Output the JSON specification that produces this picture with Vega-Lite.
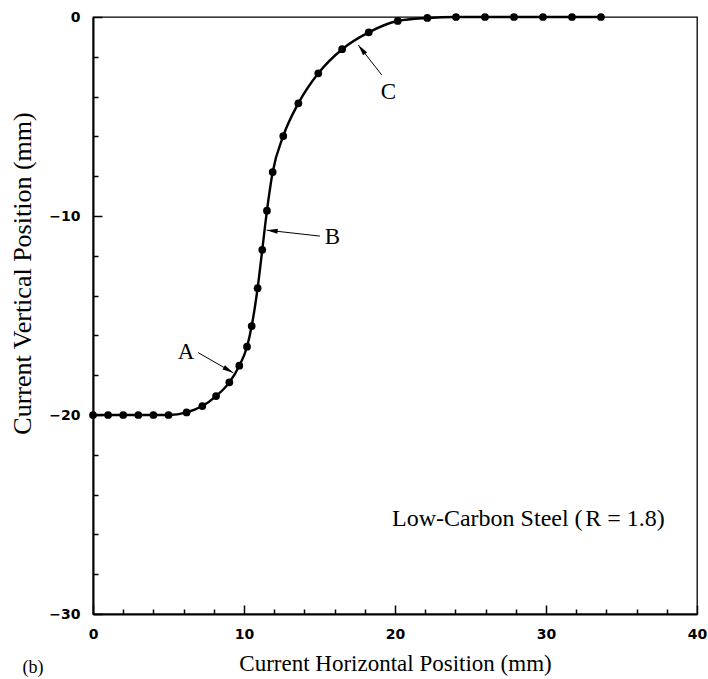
{
  "$schema": "https://vega.github.io/schema/vega-lite/v6.json",
  "width": 604,
  "height": 597,
  "autosize": {"type": "none"},
  "padding": {"left": 93, "top": 17, "right": 11, "bottom": 65},
  "background": "white",
  "config": {
    "view": {"stroke": "black", "strokeWidth": 1.3},
    "axis": {
      "grid": false,
      "domainColor": "black",
      "domainWidth": 2,
      "tickColor": "black",
      "tickWidth": 1.5,
      "labelFont": "DejaVu Sans",
      "labelFontWeight": "bold",
      "labelFontSize": 14,
      "labelColor": "black",
      "labelFlush": false,
      "labelOverlap": false,
      "titleFont": "Liberation Serif",
      "titleFontWeight": "normal",
      "titleColor": "black"
    }
  },
  "datasets": {
    "pts": [
      {"x": 0, "y": -20}, {"x": 1, "y": -20}, {"x": 2, "y": -20}, {"x": 3, "y": -20},
      {"x": 4, "y": -20}, {"x": 5, "y": -20}, {"x": 6.2, "y": -19.87}, {"x": 7.24, "y": -19.55},
      {"x": 8.15, "y": -19.05}, {"x": 9.03, "y": -18.36}, {"x": 9.69, "y": -17.52},
      {"x": 10.2, "y": -16.57}, {"x": 10.51, "y": -15.53}, {"x": 10.9, "y": -13.63},
      {"x": 11.21, "y": -11.7}, {"x": 11.52, "y": -9.73}, {"x": 11.9, "y": -7.79},
      {"x": 12.6, "y": -5.98}, {"x": 13.6, "y": -4.34}, {"x": 14.92, "y": -2.83},
      {"x": 16.5, "y": -1.62}, {"x": 18.26, "y": -0.77}, {"x": 20.18, "y": -0.2},
      {"x": 22.14, "y": -0.05}, {"x": 24.04, "y": 0}, {"x": 25.96, "y": 0},
      {"x": 27.88, "y": 0}, {"x": 29.8, "y": 0}, {"x": 31.72, "y": 0}, {"x": 33.64, "y": 0}
    ],
    "arrows": [
      {"label": "A", "x1": 6.97, "y1": -16.87, "x2": 9.29, "y2": -17.88, "lx": 6.16, "ly": -16.82},
      {"label": "B", "x1": 15.03, "y1": -11.01, "x2": 11.5, "y2": -10.71, "lx": 15.85, "ly": -11.07},
      {"label": "C", "x1": 19.12, "y1": -2.91, "x2": 17.57, "y2": -1.41, "lx": 19.56, "ly": -3.75}
    ],
    "notes": [
      {"t": "Low-Carbon Steel (", "x": 19.8, "y": -25.6, "style": "normal"},
      {"t": "R", "x": 32.6, "y": -25.6, "style": "italic"},
      {"t": "= 1.8)", "x": 34.05, "y": -25.6, "style": "normal"}
    ],
    "panel": [{"t": "(b)", "x": -3.97, "y": -32.7}]
  },
  "resolve": {"axis": {"x": "independent", "y": "independent"}},
  "layer": [
    {
      "data": {"name": "pts"},
      "mark": {"type": "line", "color": "black", "strokeWidth": 2.4, "interpolate": "monotone"},
      "encoding": {
        "x": {
          "field": "x", "type": "quantitative",
          "scale": {"domain": [0, 40], "nice": false, "zero": false},
          "axis": {
            "orient": "bottom",
            "values": [0, 10, 20, 30, 40],
            "tickSize": -9,
            "labelPadding": 22,
            "title": "Current Horizontal Position (mm)",
            "titleFontSize": 23,
            "titlePadding": 11
          }
        },
        "y": {
          "field": "y", "type": "quantitative",
          "scale": {"domain": [-30, 0], "nice": false, "zero": false},
          "axis": {
            "orient": "left",
            "values": [-30, -20, -10, 0],
            "tickSize": -9,
            "labelPadding": 22,
            "title": "Current Vertical Position (mm)",
            "titleFontSize": 26,
            "titleAngle": -90,
            "titleX": -71,
            "titleY": 256,
            "titleAlign": "center",
            "titleBaseline": "middle"
          }
        }
      }
    },
    {
      "data": {"name": "pts"},
      "mark": {"type": "point", "filled": true, "shape": "circle", "size": 60, "color": "black", "opacity": 1},
      "encoding": {
        "x": {
          "field": "x", "type": "quantitative",
          "axis": {
            "orient": "bottom",
            "values": [2, 4, 6, 8, 12, 14, 16, 18, 22, 24, 26, 28, 32, 34, 36, 38],
            "tickSize": -5,
            "labels": false,
            "domain": false,
            "title": null
          }
        },
        "y": {
          "field": "y", "type": "quantitative",
          "axis": {
            "orient": "left",
            "values": [-28, -26, -24, -22, -18, -16, -14, -12, -8, -6, -4, -2],
            "tickSize": -5,
            "labels": false,
            "domain": false,
            "title": null
          }
        }
      }
    },
    {
      "data": {"name": "arrows"},
      "mark": {"type": "rule", "color": "black", "strokeWidth": 1},
      "encoding": {
        "x": {"field": "x1", "type": "quantitative", "axis": null},
        "y": {"field": "y1", "type": "quantitative", "axis": null},
        "x2": {"field": "x2"},
        "y2": {"field": "y2"}
      }
    },
    {
      "data": {"name": "arrows"},
      "transform": [{"filter": "datum.label === 'A'"}],
      "mark": {"type": "point", "filled": true, "shape": "M0,0L0.5,2.2L-0.5,2.2Z", "size": 100, "color": "black", "opacity": 1, "angle": 119.7},
      "encoding": {
        "x": {"field": "x2", "type": "quantitative", "axis": null},
        "y": {"field": "y2", "type": "quantitative", "axis": null}
      }
    },
    {
      "data": {"name": "arrows"},
      "transform": [{"filter": "datum.label === 'B'"}],
      "mark": {"type": "point", "filled": true, "shape": "M0,0L0.5,2.2L-0.5,2.2Z", "size": 100, "color": "black", "opacity": 1, "angle": 276.4},
      "encoding": {
        "x": {"field": "x2", "type": "quantitative", "axis": null},
        "y": {"field": "y2", "type": "quantitative", "axis": null}
      }
    },
    {
      "data": {"name": "arrows"},
      "transform": [{"filter": "datum.label === 'C'"}],
      "mark": {"type": "point", "filled": true, "shape": "M0,0L0.5,2.2L-0.5,2.2Z", "size": 100, "color": "black", "opacity": 1, "angle": 322},
      "encoding": {
        "x": {"field": "x2", "type": "quantitative", "axis": null},
        "y": {"field": "y2", "type": "quantitative", "axis": null}
      }
    },
    {
      "data": {"name": "arrows"},
      "mark": {"type": "text", "font": "Liberation Serif", "fontSize": 23, "color": "black", "align": "center", "baseline": "middle"},
      "encoding": {
        "x": {"field": "lx", "type": "quantitative", "axis": null},
        "y": {"field": "ly", "type": "quantitative", "axis": null},
        "text": {"field": "label"}
      }
    },
    {
      "data": {"name": "notes"},
      "mark": {"type": "text", "font": "Liberation Serif", "fontSize": 24, "color": "black", "align": "left", "baseline": "alphabetic"},
      "encoding": {
        "x": {"field": "x", "type": "quantitative", "axis": null},
        "y": {"field": "y", "type": "quantitative", "axis": null},
        "text": {"field": "t"},
        "fontStyle": {"field": "style", "type": "nominal", "scale": {"domain": ["normal", "italic"], "range": ["normal", "italic"]}, "legend": null}
      }
    },
    {
      "data": {"name": "panel"},
      "mark": {"type": "text", "font": "Liberation Serif", "fontSize": 18, "color": "black", "align": "center", "baseline": "middle"},
      "encoding": {
        "x": {"field": "x", "type": "quantitative", "axis": null},
        "y": {"field": "y", "type": "quantitative", "axis": null},
        "text": {"field": "t"}
      }
    }
  ]
}
